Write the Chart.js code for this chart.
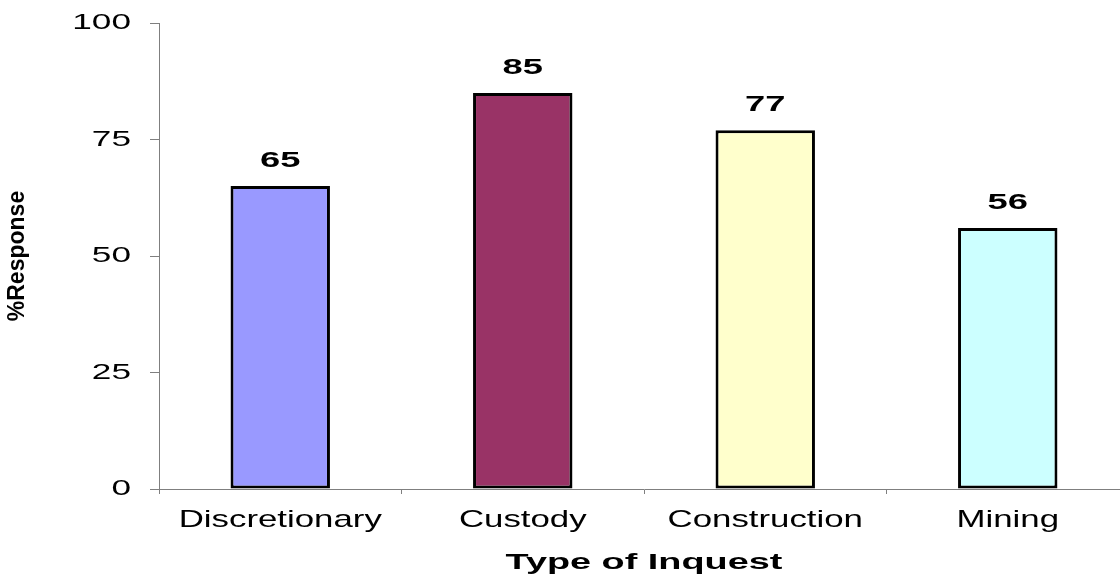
<!DOCTYPE html>
<html>
<head>
<meta charset="utf-8">
<script src="https://cdn.jsdelivr.net/npm/chart.js@4/dist/chart.umd.min.js"></script>
<style>
  html, body { margin: 0; padding: 0; background: #ffffff; overflow: hidden; }
  #wrap { width: 1120px; height: 578px; overflow: hidden; }
  canvas { display: block; }
</style>
</head>
<body>
<div id="wrap"><canvas id="c" width="1136" height="578"></canvas></div>
<script>
const categories = ['Discretionary', 'Custody', 'Construction', 'Mining'];
const responses = [65, 85, 77, 56];
const yTicks = [0, 25, 50, 75, 100];
const xTitle = 'Type of Inquest';
const yTitle = '%Response';

const FONT = '"Liberation Sans", Arial, sans-serif';
const AXIS = '#7f7f7f';

// draw the library's own texts with a horizontal stretch (as in the reference)
function wrapStretch(scale, name, k) {
  const base = scale[name];
  scale[name] = function (...args) {
    const ctx = this.ctx;
    const orig = CanvasRenderingContext2D.prototype.fillText;
    ctx.fillText = function (t, x, y, mw) {
      this.save();
      this.scale(k, 1);
      if (mw === undefined) orig.call(this, t, x / k, y);
      else orig.call(this, t, x / k, y, mw / k);
      this.restore();
    };
    try { return base.apply(this, args); } finally { delete ctx.fillText; }
  };
}
const stretchText = {
  id: 'stretchText',
  beforeDraw(chart) {
    const cfg = { x: { labels: 1.45, title: 1.72 }, y: { labels: 1.6, title: 1 } };
    Object.keys(cfg).forEach(id => {
      const s = chart.scales[id];
      if (!s || s._stretched) return;
      s._stretched = true;
      if (cfg[id].labels !== 1) wrapStretch(s, 'drawLabels', cfg[id].labels);
      if (cfg[id].title !== 1) wrapStretch(s, 'drawTitle', cfg[id].title);
    });
  }
};

const valueLabels = {
  id: 'valueLabels',
  afterDatasetsDraw(chart) {
    const ctx = chart.ctx;
    const meta = chart.getDatasetMeta(0);
    const data = chart.data.datasets[0].data;
    ctx.save();
    ctx.font = 'bold 22px ' + FONT;
    ctx.fillStyle = '#000000';
    ctx.textAlign = 'center';
    ctx.textBaseline = 'alphabetic';
    meta.data.forEach((bar, i) => {
      ctx.save();
      ctx.translate(bar.x, bar.y - 19);
      ctx.scale(1.65, 1);
      ctx.fillText(String(data[i]), 0, 0);
      ctx.restore();
    });
    ctx.restore();
  }
};

new Chart(document.getElementById('c'), {
  type: 'bar',
  data: {
    labels: categories,
    datasets: [{
      data: responses,
      backgroundColor: ['#9999FF', '#993366', '#FFFFCC', '#CCFFFF'],
      borderColor: '#000000',
      borderWidth: 3,
      borderSkipped: false,
      categoryPercentage: 1.0,
      barPercentage: 0.41
    }]
  },
  options: {
    responsive: false,
    animation: false,
    devicePixelRatio: 1,
    layout: { padding: { top: 23, right: 7, bottom: 0, left: 0 } },
    plugins: { legend: { display: false }, tooltip: { enabled: false } },
    scales: {
      x: {
        offset: true,
        grid: { display: true, offset: true, drawOnChartArea: false, drawTicks: true, tickLength: 5, color: AXIS, lineWidth: 1 },
        border: { display: true, color: AXIS, width: 1 },
        ticks: { color: '#000000', font: { family: FONT, size: 24 }, padding: 12, maxRotation: 0, autoSkip: false },
        title: { display: true, text: xTitle, color: '#000000', font: { family: FONT, size: 22, weight: 'bold' }, padding: { top: 0, bottom: 2 } },
        afterFit(scale) { scale.height = 89; }
      },
      y: {
        min: 0,
        max: 100,
        afterBuildTicks(scale) { scale.ticks = yTicks.map(v => ({ value: v })); },
        grid: { display: true, drawOnChartArea: false, drawTicks: true, tickLength: 9, color: AXIS, lineWidth: 1 },
        border: { display: true, color: AXIS, width: 1 },
        ticks: { color: '#000000', font: { family: FONT, size: 22 }, padding: 19 },
        title: { display: true, text: yTitle, color: '#000000', font: { family: FONT, size: 23, weight: 'bold' }, padding: { top: 4, bottom: 0 } },
        afterFit(scale) { scale.width = 159; scale.paddingTop = 0; scale.paddingBottom = 0; }
      }
    }
  },
  plugins: [stretchText, valueLabels]
});
</script>
</body>
</html>
